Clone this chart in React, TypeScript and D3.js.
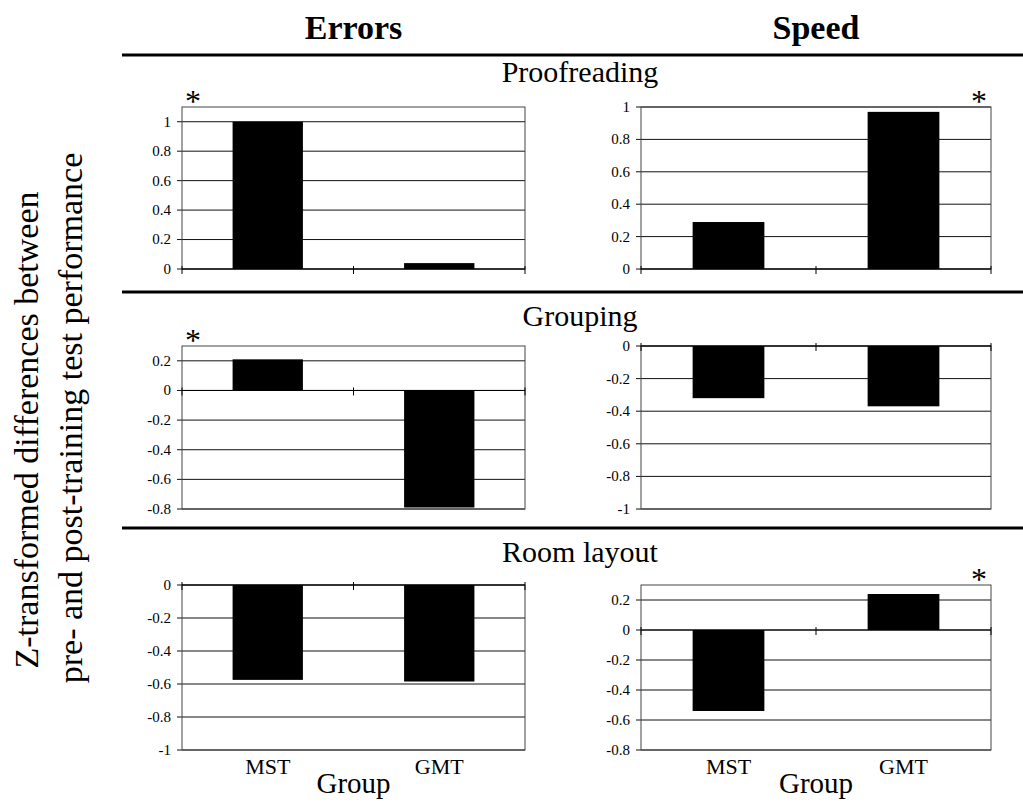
import React from 'react'
import * as d3 from 'd3'

const groups = ['MST', 'GMT']
const measures = ['Errors', 'Speed']
const tasks = ['Proofreading', 'Grouping', 'Room layout']

// values per task, [MST, GMT]
const errorsValues = [[1.0, 0.04], [0.21, -0.79], [-0.575, -0.585]]
const speedValues = [[0.29, 0.97], [-0.32, -0.37], [-0.54, 0.24]]

const errorsDomains = [[0, 1.1], [-0.8, 0.3], [-1, 0]]
const speedDomains = [[0, 1], [-1, 0], [-0.8, 0.3]]

const errorsTicks = [
  [0, 0.2, 0.4, 0.6, 0.8, 1],
  [-0.8, -0.6, -0.4, -0.2, 0, 0.2],
  [-1, -0.8, -0.6, -0.4, -0.2, 0],
]
const speedTicks = [
  [0, 0.2, 0.4, 0.6, 0.8, 1],
  [-1, -0.8, -0.6, -0.4, -0.2, 0],
  [-0.8, -0.6, -0.4, -0.2, 0, 0.2],
]

// which group carries the significance star (null = none)
const errorsStars = ['MST', 'MST', null]
const speedStars = ['GMT', null, 'GMT']

const yLabel = ['Z-transformed differences between', 'pre- and post-training test performance']
const xLabel = 'Group'

const FONT = "'Liberation Serif', 'Times New Roman', Times, serif"
const COLS = [{ left: 182, right: 525 }, { left: 641, right: 991 }]
const ROWS = [{ top: 107, bottom: 269 }, { top: 346, bottom: 509 }, { top: 585, bottom: 750 }]
const DIVIDERS = [55, 292, 528]

const fmt = (d: number) => String(+d.toFixed(1))

function Panel({ values, domain, ticks, col, row, star, showLabels }: any) {
  const { left, right } = COLS[col]
  const { top, bottom } = ROWS[row]
  const x = d3.scaleBand<string>().domain(groups).range([left, right])
  const y = d3.scaleLinear().domain(domain).range([bottom, top])
  const bw = x.bandwidth() * 0.41
  const y0 = y(0)
  const crossTicks = [left, left + x.step(), right]

  return (
    <g>
      {ticks.map((t: number) => (
        <g key={t}>
          <line x1={left} x2={right} y1={y(t)} y2={y(t)} stroke="#111" strokeWidth={1} />
          <line x1={left - 5} x2={left} y1={y(t)} y2={y(t)} stroke="#111" strokeWidth={1} />
          <text x={left - 11} y={y(t)} dy="0.33em" textAnchor="end" style={{ fontSize: 15 }}>
            {fmt(t)}
          </text>
        </g>
      ))}
      <rect x={left} y={top} width={right - left} height={bottom - top} fill="none" stroke="#444" strokeWidth={1} />
      {groups.map((g, i) => {
        const v = values[i]
        const cx = (x(g) as number) + x.bandwidth() / 2
        return (
          <rect key={g} x={cx - bw / 2} y={Math.min(y(v), y0)} width={bw}
            height={Math.abs(y(v) - y0)} fill="#000" />
        )
      })}
      <line x1={left} x2={right} y1={y0} y2={y0} stroke="#000" strokeWidth={1} />
      {crossTicks.map((cx, i) => (
        <line key={i} x1={cx} x2={cx} y1={y0 - 3} y2={y0 + 5} stroke="#000" strokeWidth={1} />
      ))}
      {star && (
        <text x={star === groups[0] ? left + 11 : right - 12} y={top - 13} dy="0.55em"
          textAnchor="middle" style={{ fontSize: 32 }}>*</text>
      )}
      {showLabels && (
        <g>
          {groups.map(g => (
            <text key={g} x={(x(g) as number) + x.bandwidth() / 2} y={bottom + 24} textAnchor="middle"
              style={{ fontSize: 22 }}>{g}</text>
          ))}
          <text x={(left + right) / 2} y={bottom + 43} textAnchor="middle" style={{ fontSize: 29 }}>
            {xLabel}
          </text>
        </g>
      )}
    </g>
  )
}

export default function App() {
  const W = 1023
  const H = 812
  const colCenters = COLS.map(c => (c.left + c.right) / 2)

  return (
    <div style={{ position: 'absolute', left: 0, top: 0 }}>
      <svg width={W} height={H} style={{ display: 'block', background: '#fff', fontFamily: FONT }}>
        {measures.map((m, i) => (
          <text key={m} x={colCenters[i]} y={39} textAnchor="middle" style={{ fontSize: 34, fontWeight: 'bold' }}>
            {m}
          </text>
        ))}
        {DIVIDERS.map(d => (
          <line key={d} x1={122} x2={W} y1={d} y2={d} stroke="#000" strokeWidth={3} />
        ))}
        {tasks.map((t, i) => (
          <text key={t} x={580} y={[82, 326, 562][i]} textAnchor="middle" style={{ fontSize: 30 }}>{t}</text>
        ))}
        {tasks.map((t, r) => (
          <g key={t}>
            <Panel values={errorsValues[r]} domain={errorsDomains[r]} ticks={errorsTicks[r]} col={0} row={r}
              star={errorsStars[r]} showLabels={r === tasks.length - 1} />
            <Panel values={speedValues[r]} domain={speedDomains[r]} ticks={speedTicks[r]} col={1} row={r}
              star={speedStars[r]} showLabels={r === tasks.length - 1} />
          </g>
        ))}
        <text transform="translate(38,430) rotate(-90)" textAnchor="middle" style={{ fontSize: 34 }}>
          {yLabel[0]}
        </text>
        <text transform="translate(82,418) rotate(-90)" textAnchor="middle" style={{ fontSize: 34 }}>
          {yLabel[1]}
        </text>
      </svg>
    </div>
  )
}
